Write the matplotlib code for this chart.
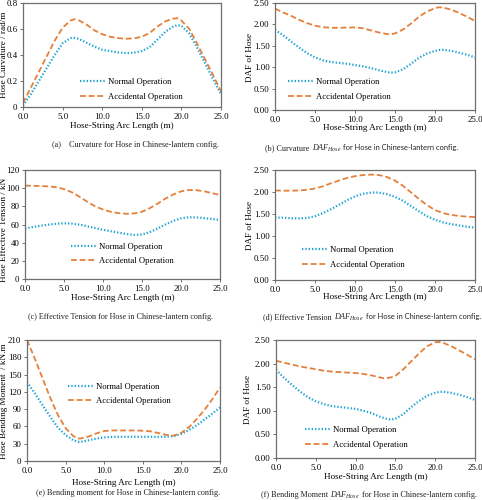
import matplotlib
matplotlib.use("Agg")
import matplotlib.pyplot as plt
from matplotlib.offsetbox import TextArea, HPacker, AnnotationBbox

# ---------------- data ----------------
# (a) curvature
xa = [0, 1, 2, 3, 4, 5, 6, 6.5, 7, 8, 9, 10, 11, 12, 13, 14, 15, 16, 17, 18, 19, 19.5, 20, 21, 22, 23, 24, 25]
a_norm = [0.01, 0.1, 0.2, 0.3, 0.4, 0.49, 0.53, 0.532, 0.525, 0.495, 0.465, 0.44, 0.43, 0.42, 0.415, 0.418, 0.43, 0.46, 0.52, 0.58, 0.62, 0.63, 0.625, 0.565, 0.455, 0.335, 0.215, 0.1]
a_acc = [0.03, 0.15, 0.27, 0.39, 0.51, 0.61, 0.665, 0.675, 0.668, 0.635, 0.59, 0.56, 0.54, 0.53, 0.525, 0.528, 0.54, 0.57, 0.62, 0.66, 0.68, 0.683, 0.665, 0.6, 0.485, 0.365, 0.245, 0.12]

# (b) curvature DAF
xb = [0, 1, 2, 3, 4, 5, 6, 7, 8, 9, 10, 11, 12, 13, 14, 14.5, 15, 16, 17, 18, 19, 20, 20.5, 21, 22, 23, 24, 25]
b_norm = [1.87, 1.75, 1.6, 1.46, 1.33, 1.23, 1.16, 1.12, 1.1, 1.08, 1.05, 1.02, 0.98, 0.93, 0.885, 0.875, 0.88, 0.95, 1.08, 1.22, 1.32, 1.38, 1.4, 1.405, 1.385, 1.34, 1.29, 1.23]
b_acc = [2.37, 2.28, 2.2, 2.11, 2.03, 1.97, 1.935, 1.92, 1.92, 1.925, 1.93, 1.91, 1.86, 1.81, 1.775, 1.77, 1.79, 1.88, 2.02, 2.18, 2.3, 2.38, 2.4, 2.395, 2.345, 2.27, 2.18, 2.08]

# (c) effective tension
xc = [0, 1, 2, 3, 4, 5, 6, 7, 8, 9, 10, 11, 12, 13, 14, 15, 16, 17, 18, 19, 20, 21, 22, 23, 24, 25]
c_norm = [55.8, 57.2, 58.6, 59.8, 60.8, 61.3, 61.0, 59.8, 58.0, 56.0, 54.2, 52.6, 51.0, 49.6, 48.5, 49.0, 51.5, 55.5, 60.0, 64.0, 66.8, 68.0, 67.8, 67.0, 66.0, 65.0]
c_acc = [102.8, 102.6, 102.3, 102.0, 101.0, 99.0, 95.5, 90.5, 85.0, 80.0, 76.5, 74.0, 72.5, 71.8, 72.2, 74.0, 78.0, 83.0, 88.5, 93.0, 96.5, 98.0, 97.8, 96.5, 94.5, 92.5]

# (d) effective tension DAF
xd = [0, 1, 2, 3, 4, 5, 6, 7, 8, 9, 10, 11, 12, 12.5, 13, 14, 15, 16, 17, 18, 19, 20, 21, 22, 23, 24, 25]
d_norm = [1.42, 1.415, 1.405, 1.40, 1.41, 1.45, 1.52, 1.61, 1.71, 1.81, 1.9, 1.96, 1.985, 1.99, 1.985, 1.95, 1.89, 1.8, 1.68, 1.56, 1.45, 1.37, 1.31, 1.27, 1.24, 1.21, 1.19]
d_acc = [2.035, 2.03, 2.03, 2.035, 2.05, 2.08, 2.13, 2.2, 2.26, 2.32, 2.36, 2.385, 2.395, 2.395, 2.385, 2.34, 2.26, 2.14, 1.99, 1.84, 1.7, 1.59, 1.52, 1.48, 1.455, 1.44, 1.43]

# (e) bending moment
xe = [0, 1, 2, 3, 4, 5, 6, 6.7, 7, 8, 9, 10, 11, 12, 13, 14, 15, 16, 17, 18, 19, 20, 21, 22, 23, 24, 25]
e_norm = [137, 118, 97, 77, 58, 45, 36, 33, 33.3, 36, 39, 41, 41.8, 42, 42, 42, 42, 42, 42, 42, 43, 47, 54, 62, 72, 82, 93]
e_acc = [210, 178, 144, 110, 80, 57, 43, 39, 39.3, 42.5, 48, 52, 53, 53, 53, 53, 52.5, 51.5, 48.5, 45.5, 44, 49, 59, 73, 89, 107, 127.5]

# (f) bending moment DAF
xf = [0, 1, 2, 3, 4, 5, 6, 7, 8, 9, 10, 11, 12, 13, 13.5, 14, 14.5, 15, 16, 17, 18, 19, 20, 20.5, 21, 22, 23, 24, 25]
f_norm = [1.87, 1.7, 1.55, 1.41, 1.29, 1.2, 1.14, 1.1, 1.08, 1.06, 1.04, 1.0, 0.95, 0.88, 0.85, 0.825, 0.815, 0.83, 0.93, 1.08, 1.21, 1.32, 1.38, 1.4, 1.405, 1.38, 1.34, 1.29, 1.23]
f_acc = [2.06, 2.02, 1.98, 1.94, 1.91, 1.88, 1.85, 1.83, 1.82, 1.81, 1.8, 1.78, 1.75, 1.71, 1.69, 1.695, 1.71, 1.74, 1.88, 2.05, 2.22, 2.37, 2.45, 2.46, 2.44, 2.37, 2.28, 2.19, 2.09]

series_labels = ["Normal Operation", "Accidental Operation"]
x_ticks = [0, 5, 10, 15, 20, 25]

# ---------------- style ----------------
SERIF = "Liberation Serif"
SANS = "Lato"
plt.rcParams["font.family"] = SERIF
plt.rcParams["mathtext.fontset"] = "custom"
plt.rcParams["mathtext.rm"] = "Liberation Serif"
plt.rcParams["mathtext.it"] = "Liberation Serif:italic"

C_NORM = "#1BA3D6"
C_ACC = "#E5803A"
SPINE = "#6f6f6f"
FS_TICK = 6.3
FS_LAB = 6.6
FS_LEG = 6.2
FS_CAP = 5.9
FS_CAP_SANS = 5.4

W, H = 482, 500
fig = plt.figure(figsize=(W / 100, H / 100), dpi=100)


def fx(px):
    return px / W


def fy(py):
    return 1 - py / H


def make_axes(l, r, t, b):
    return fig.add_axes([fx(l), fy(b), (r - l) / W, (b - t) / H])


panels = [
    dict(box=(23, 221, 3, 107), x=xa, n=a_norm, a=a_acc, ylim=(0, 0.8),
         yticks=[0, 0.2, 0.4, 0.6, 0.8], ytl=["0", "0.2", "0.4", "0.6", "0.8"],
         ylabel="Hose Curvature / rad/m", ylab_xy=(4.5, 55), xlab_y=126,
         leg=(80, 89.5)),
    dict(box=(275, 475, 3, 110), x=xb, n=b_norm, a=b_acc, ylim=(0, 2.5),
         yticks=[0, 0.5, 1.0, 1.5, 2.0, 2.5],
         ytl=["0.00", "0.50", "1.00", "1.50", "2.00", "2.50"],
         ylabel="DAF of Hose", ylab_xy=(250, 57), xlab_y=128,
         leg=(288, 89.5)),
    dict(box=(25, 220, 170, 279), x=xc, n=c_norm, a=c_acc, ylim=(0, 120),
         yticks=[0, 20, 40, 60, 80, 100, 120],
         ytl=["0", "20", "40", "60", "80", "100", "120"],
         ylabel="Hose Effective Tension / kN", ylab_xy=(4.5, 230), xlab_y=298,
         leg=(71, 254)),
    dict(box=(275, 475, 170, 280), x=xd, n=d_norm, a=d_acc, ylim=(0, 2.5),
         yticks=[0, 0.5, 1.0, 1.5, 2.0, 2.5],
         ytl=["0.00", "0.50", "1.00", "1.50", "2.00", "2.50"],
         ylabel="DAF of Hose", ylab_xy=(250, 225), xlab_y=297,
         leg=(302, 257.5)),
    dict(box=(27, 220, 340, 461), x=xe, n=e_norm, a=e_acc, ylim=(0, 210),
         yticks=[0, 30, 60, 90, 120, 150, 180, 210],
         ytl=["0", "30", "60", "90", "120", "150", "180", "210"],
         ylabel="Hose Bending Moment  / kN.m", ylab_xy=(4.5, 401), xlab_y=483,
         leg=(68, 394)),
    dict(box=(276, 475, 340, 458), x=xf, n=f_norm, a=f_acc, ylim=(0, 2.5),
         yticks=[0, 0.5, 1.0, 1.5, 2.0, 2.5],
         ytl=["0.00", "0.50", "1.00", "1.50", "2.00", "2.50"],
         ylabel="DAF of Hose", ylab_xy=(248, 399), xlab_y=477,
         leg=(305, 437.5)),
]

for p in panels:
    l, r, t, b = p["box"]
    ax = make_axes(l, r, t, b)
    ln1, = ax.plot(p["x"], p["n"], color=C_NORM, lw=1.6, linestyle=(0, (0.6, 0.9)),
                   dash_capstyle="butt", label=series_labels[0])
    ln2, = ax.plot(p["x"], p["a"], color=C_ACC, lw=1.3, linestyle=(0, (3.2, 1.6)),
                   label=series_labels[1])
    ax.set_xlim(0, 25)
    ax.set_ylim(*p["ylim"])
    ax.set_xticks(x_ticks)
    ax.set_xticklabels([f"{v:.1f}" for v in x_ticks])
    ax.set_yticks(p["yticks"])
    ax.set_yticklabels(p["ytl"])
    ax.tick_params(direction="out", length=2.5, width=0.7, color=SPINE,
                   labelsize=FS_TICK, pad=1.5)
    for s in ax.spines.values():
        s.set_color(SPINE)
        s.set_linewidth(0.9)
    fig.text(fx(p["ylab_xy"][0]), fy(p["ylab_xy"][1]), p["ylabel"], rotation=90,
             ha="center", va="center", fontsize=FS_LAB)
    fig.text(fx((l + r) / 2), fy(p["xlab_y"]), "Hose-String Arc Length (m)",
             ha="center", va="center", fontsize=FS_LAB)
    lx, ly = p["leg"]
    ax.legend(handles=[ln1, ln2], loc="center left", frameon=False,
              bbox_to_anchor=((lx - l) / (r - l), (b - ly) / (b - t)),
              borderpad=0, borderaxespad=0, handlelength=3.0, handletextpad=0.3,
              labelspacing=0.75, fontsize=FS_LEG)

# ---------------- captions ----------------
def caption(parts, cx, cy):
    areas = []
    for txt, fam, size in parts:
        areas.append(TextArea(txt, textprops=dict(fontsize=size, family=fam,
                                                  color="#222222")))
    hp = HPacker(children=areas, align="baseline", pad=0, sep=1.5)
    ab = AnnotationBbox(hp, (fx(cx), fy(cy)), xycoords="figure fraction",
                        frameon=False, box_alignment=(0.5, 0.5), pad=0)
    fig.add_artist(ab)


DAF = r"$\mathit{DAF}_{\mathit{Hose}}$"
caption([("(a)    Curvature for Hose in Chinese-lantern config.", SERIF, FS_CAP)], 135, 145)
caption([("(b) Curvature", SERIF, FS_CAP), (DAF, SERIF, FS_CAP),
         ("for Hose in Chinese-lantern config.", SANS, FS_CAP_SANS)], 362, 148)
caption([("(c) Effective Tension for Hose in Chinese-lantern config.", SERIF, FS_CAP)], 120, 317)
caption([("(d) Effective Tension", SERIF, FS_CAP), (DAF, SERIF, FS_CAP),
         ("for Hose in Chinese-lantern config.", SANS, FS_CAP_SANS)], 372, 317)
caption([("(e) Bending moment for Hose in Chinese-lantern config.", SERIF, FS_CAP)], 128, 493)
caption([("(f) Bending Moment", SERIF, FS_CAP), (DAF, SERIF, FS_CAP),
         ("for Hose in Chinese-lantern config.", SERIF, FS_CAP)], 369, 495)

fig.savefig("out.png", dpi=100)
